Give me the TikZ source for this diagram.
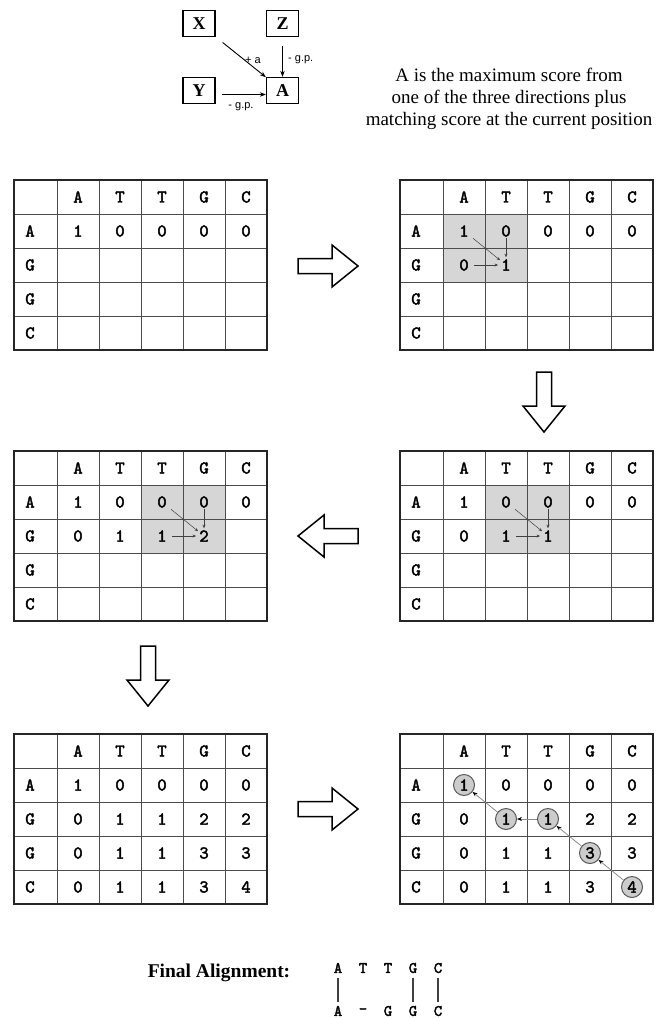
\documentclass[tikz,border=0pt]{standalone}
\usepackage{fontspec}
\newfontfamily\serifr{Liberation Serif}
\newfontfamily\sansr{Liberation Sans}
\newfontfamily\monob{lmmono10-regular.otf}[FakeBold=2.2]
\usetikzlibrary{arrows.meta}
\tikzset{
  cell/.style={font=\monob\bfseries\fontsize{18}{18}\selectfont, inner sep=1pt},
  gline/.style={draw=black!70, line width=1pt},
  gborder/.style={draw=black!85, line width=1.6pt},
  shadecell/.style={fill=black!16},
  tinyarr/.style={-{Stealth[length=3.5pt,width=3pt]}, line width=0.5pt, draw=black!75},
  trace/.style={-{Stealth[length=5pt,width=4pt,color=black]}, line width=0.8pt, draw=black!45},
  circ/.style={circle, draw=black!65, fill=black!20, line width=1pt, minimum size=21pt, inner sep=0pt},
  topbox/.style={draw, line width=1.3pt, minimum width=32pt, minimum height=26pt, inner sep=0pt, font=\serifr\bfseries\fontsize{18}{18}\selectfont},
  conn/.style={-{Stealth[length=6pt,width=4.5pt]}, line width=0.9pt},
  lbl/.style={font=\sansr\fontsize{11}{11}\selectfont, inner sep=1pt},
  aligntxt/.style={font=\monob\bfseries\fontsize{16}{16}\selectfont, inner sep=1pt},
  bar/.style={line width=1.2pt, draw=black!75},
  blockarrow/.pic={
    \draw[line width=1.5pt, fill=white, line join=miter]
      (0,-7.5) -- (34,-7.5) -- (34,-21) -- (60,0) -- (34,21) -- (34,7.5) -- (0,7.5) -- cycle;
  }
}
\newcommand\dpgrid[4]{%
  \begin{scope}[shift={(#2,#3)}]
    \foreach \k in {1,...,5} \draw[gline] ({43+42*(\k-1)},0) -- ++(0,170);
    \foreach \k in {1,...,4} \draw[gline] (0,{34*\k}) -- ++(253,0);
    \draw[gborder] (0,0) rectangle (253,170);
    \foreach \lab [count=\i] in {A,T,T,G,C} \node[cell] (#1-0-\i) at ({22+42*\i},17) {\lab};
    \foreach \lab [count=\j] in {A,G,G,C} \node[cell] (#1-\j-0) at (16,{17+34*\j}) {\lab};
    \foreach \row [count=\j] in {#4} {
      \foreach \v [count=\i] in \row {
        \node[cell] (#1-\j-\i) at ({22+42*\i},{17+34*\j}) {\v};
      }
    }
  \end{scope}}
\begin{document}
\begin{tikzpicture}[x=1pt,y=-1pt]
\useasboundingbox (0,0) rectangle (662,1019);
\fill[white] (0,0) rectangle (662,1019);

% top diagram
\node[topbox] (X) at (199,23.5) {X};
\node[topbox] (Z) at (282.5,23.5) {Z};
\node[topbox] (Y) at (199,90.5) {Y};
\node[topbox] (A) at (282.5,90.5) {A};
\draw[conn, shorten <=9pt] (X) -- (A);
\draw[conn, shorten <=9pt] (Z) -- (A);
\draw[conn, shorten <=6pt] ([yshift=-4pt]Y.east) -- ([yshift=-4pt]A.west);
\node[lbl] (la) at (253,60) {+ a};
\node[lbl, anchor=west] (lz) at (287,60) {- g.p.};
\node[lbl] (ly) at (241,107) {- g.p.};
\node[font=\serifr\fontsize{19}{22}\selectfont, align=center] (desc) at (509,99)
  {A is the maximum score from\\one of the three directions plus\\matching score at the current position};

% grid 1
\dpgrid{g1}{14}{180}{{1,0,0,0,0}}

% grid 2
\fill[shadecell] (443,214) rectangle (527,282);
\dpgrid{g2}{400}{180}{{1,0,0,0,0},{0,1}}
\draw[tinyarr, shorten <=4pt] (g2-1-1) -- (g2-2-2);
\draw[tinyarr, shorten >=1pt] (g2-1-2) -- (g2-2-2);
\draw[tinyarr, shorten <=4pt, shorten >=2pt] (g2-2-1) -- (g2-2-2);

% grid 4 (right middle)
\fill[shadecell] (485,485) rectangle (569,553);
\dpgrid{g4}{400}{451}{{1,0,0,0,0},{0,1,1}}
\draw[tinyarr, shorten <=4pt] (g4-1-2) -- (g4-2-3);
\draw[tinyarr, shorten >=1pt] (g4-1-3) -- (g4-2-3);
\draw[tinyarr, shorten <=4pt, shorten >=2pt] (g4-2-2) -- (g4-2-3);

% grid 3 (left middle)
\fill[shadecell] (141,485) rectangle (225,553);
\dpgrid{g3}{14}{451}{{1,0,0,0,0},{0,1,1,2}}
\draw[tinyarr, shorten <=4pt] (g3-1-3) -- (g3-2-4);
\draw[tinyarr, shorten >=1pt] (g3-1-4) -- (g3-2-4);
\draw[tinyarr, shorten <=4pt, shorten >=2pt] (g3-2-3) -- (g3-2-4);

% grid 5
\dpgrid{g5}{14}{734}{{1,0,0,0,0},{0,1,1,2,2},{0,1,1,3,3},{0,1,1,3,4}}

% grid 6 with traceback
\node[circ] (c1) at (464,785) {};
\node[circ] (c2) at (506,819) {};
\node[circ] (c3) at (548,819) {};
\node[circ] (c4) at (590,853) {};
\node[circ] (c5) at (632,887) {};
\dpgrid{g6}{400}{734}{{1,0,0,0,0},{0,1,1,2,2},{0,1,1,3,3},{0,1,1,3,4}}
\draw[trace] (c2) -- (c1);
\draw[trace] (c3) -- (c2);
\draw[trace] (c4) -- (c3);
\draw[trace] (c5) -- (c4);

% block arrows
\pic at (298,266) {blockarrow};
\pic[rotate=-90] at (544,372) {blockarrow};
\pic[rotate=180] at (358,536) {blockarrow};
\pic[rotate=-90] at (148,646) {blockarrow};
\pic at (298,809) {blockarrow};

% final alignment
\node[font=\serifr\bfseries\fontsize{19.5}{20}\selectfont] (fa) at (219,973) {Final Alignment:};
\foreach \t [count=\i] in {A,T,T,G,C} \node[aligntxt] (t\i) at ({313+25*\i},968) {\t};
\foreach \b [count=\i] in {A,-,G,G,C} \node[aligntxt] (b\i) at ({313+25*\i},1011) {\b};
\foreach \i in {1,4,5} \draw[bar, shorten <=4pt, shorten >=3pt] (t\i) -- (b\i);
\end{tikzpicture}
\end{document}
